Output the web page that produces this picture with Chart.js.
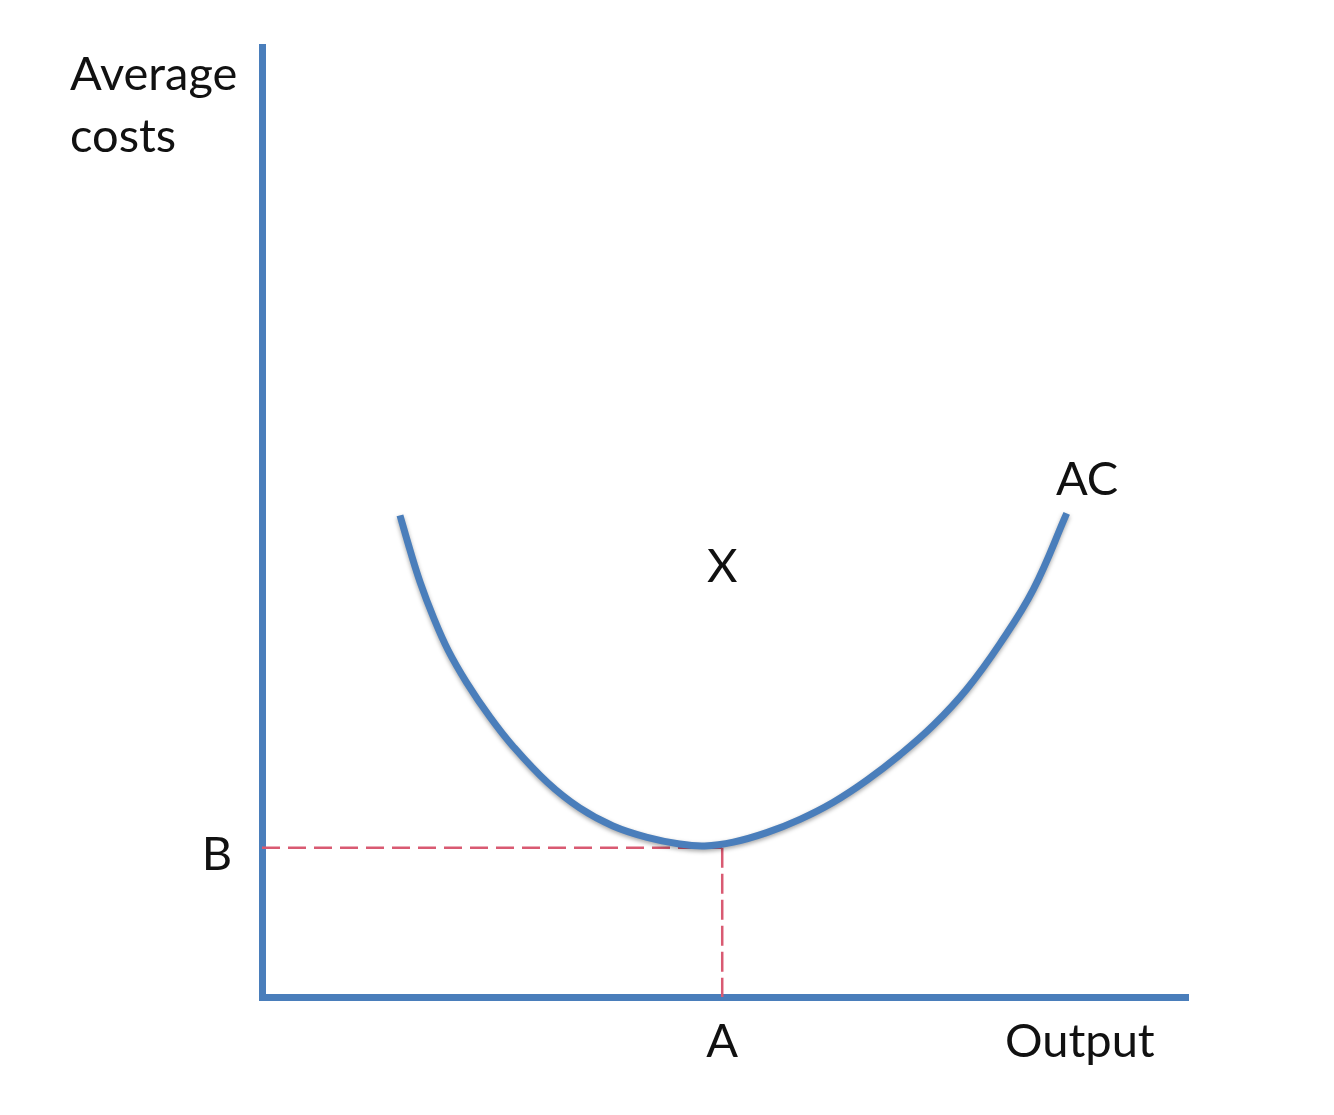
<!DOCTYPE html>
<html lang="en">
<head>
    <meta charset="UTF-8">
    <title>Average Costs</title>
    <style>
        body {
            margin: 0;
            background: #ffffff;
        }
        .chart-container {
            width: 1334px;
            height: 1115px;
        }
    </style>
    <script src="https://cdn.jsdelivr.net/npm/chart.js"></script>
</head>
<body>
    <div class="chart-container">
        <canvas id="acChart"></canvas>
    </div>
    <script>
        // AC curve (output, average cost)
        const outputValues = [14.9, 16.0, 17.1, 18.5, 20.1, 22.1, 24.6, 27.1, 30.8, 34.3, 37.9, 41.6, 45.1, 47.8, 50.9, 54.5, 58.1, 61.7, 65.3, 68.9, 72.5, 76.1, 79.7, 83.3, 86.9];
        const costValues = [50.7, 47.0, 43.6, 40.0, 36.5, 33.1, 29.5, 26.4, 22.6, 19.9, 18.0, 16.8, 16.1, 15.9, 16.3, 17.3, 18.7, 20.5, 22.8, 25.5, 28.6, 32.4, 37.2, 42.9, 50.9];

        // minimum point
        const pointA = 49.7;
        const pointB = 15.7;

        const axisLabels = ['Output', ['Average', 'costs']];
        const pointLabels = ['A', 'B', 'X', 'AC'];

        const blue = '#4a7ebb';
        const red = '#d95a72';
        const fontFamily = 'Lato, "Open Sans", sans-serif';

        const curve = outputValues.map((x, i) => ({ x: x, y: costValues[i] }));

        // shadow under the curve + text labels placed from the scales
        const labelPlugin = {
            id: 'labels',
            beforeDatasetDraw(chart, args) {
                if (args.index === 0) {
                    const ctx = chart.ctx;
                    ctx.save();
                    ctx.shadowColor = 'rgba(0,0,0,0.35)';
                    ctx.shadowBlur = 4;
                    ctx.shadowOffsetY = 2;
                }
            },
            afterDatasetDraw(chart, args) {
                if (args.index === 0) chart.ctx.restore();
            },
            afterDraw(chart) {
                const ctx = chart.ctx;
                const xs = chart.scales.x;
                const ys = chart.scales.y;
                ctx.save();
                ctx.fillStyle = '#111';
                ctx.font = '47px ' + fontFamily;
                ctx.textBaseline = 'middle';
                ctx.textAlign = 'center';
                ctx.fillText(pointLabels[0], xs.getPixelForValue(pointA), 1042);
                ctx.fillText(pointLabels[1], 217, ys.getPixelForValue(pointB) + 7);
                ctx.fillText(pointLabels[2], xs.getPixelForValue(pointA), ys.getPixelForValue(45.3));
                ctx.fillText(pointLabels[3], xs.getPixelForValue(89.1), ys.getPixelForValue(54.4));
                ctx.textAlign = 'left';
                ctx.fillText(axisLabels[0], 1005, 1042);
                ctx.fillText(axisLabels[1][0], 70, 75);
                ctx.fillText(axisLabels[1][1], 70, 137);
                ctx.restore();
            }
        };

        new Chart(document.getElementById('acChart'), {
            type: 'line',
            data: {
                datasets: [
                    {
                        data: curve,
                        borderColor: blue,
                        borderWidth: 7,
                        pointRadius: 0,
                        tension: 0.4,
                        fill: false
                    },
                    {
                        data: [{ x: 0, y: pointB }, { x: pointA, y: pointB }],
                        borderColor: red,
                        borderWidth: 2.5,
                        borderDash: [18, 8],
                        pointRadius: 0
                    },
                    {
                        data: [{ x: pointA, y: pointB }, { x: pointA, y: 0 }],
                        borderColor: red,
                        borderWidth: 2.5,
                        borderDash: [20, 6],
                        pointRadius: 0
                    }
                ]
            },
            options: {
                responsive: true,
                maintainAspectRatio: false,
                animation: false,
                layout: {
                    padding: { left: 262, right: 146, top: 47, bottom: 118 }
                },
                plugins: {
                    legend: { display: false },
                    tooltip: { enabled: false }
                },
                scales: {
                    x: {
                        type: 'linear',
                        min: 0,
                        max: 100,
                        grid: { display: false },
                        ticks: { display: false },
                        border: { color: blue, width: 7 },
                        afterFit(scale) { scale.height = 0; }
                    },
                    y: {
                        type: 'linear',
                        min: 0,
                        max: 100,
                        grid: { display: false },
                        ticks: { display: false },
                        border: { color: blue, width: 7 },
                        afterFit(scale) { scale.width = 0; }
                    }
                }
            },
            plugins: [labelPlugin]
        });
    </script>
</body>
</html>
